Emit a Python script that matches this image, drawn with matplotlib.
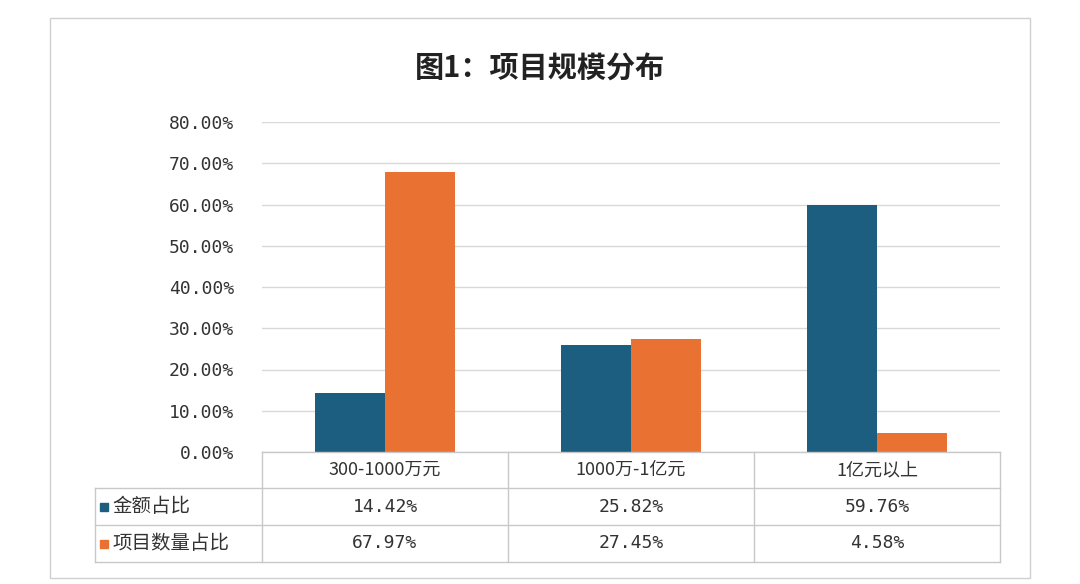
import matplotlib
matplotlib.use("Agg")
import matplotlib.pyplot as plt
from matplotlib.lines import Line2D
from matplotlib.patches import Rectangle
import numpy as np

plt.rcParams['font.family'] = ['Noto Sans CJK SC', 'DejaVu Sans']

categories = ['300-1000万元', '1000万-1亿元', '1亿元以上']
series_names = ['金额占比', '项目数量占比']
amount = [14.42, 25.82, 59.76]
count = [67.97, 27.45, 4.58]
colors = ['#1b5e80', '#e97132']

W, H = 1080, 584
fig = plt.figure(figsize=(W/100, H/100), dpi=100)
def fx(x): return x / W
def fy(y): return 1 - y / H

# outer border
fig.patches.append(Rectangle((fx(50), fy(578)), fx(1030)-fx(50), fy(18)-fy(578),
                             transform=fig.transFigure, fill=False, ec='#d0d0d0', lw=1))
fig.text(fx(540), fy(68), '图1：项目规模分布', ha='center', va='center', fontsize=21, fontweight='bold', color='#222')

L, R, T, B = 262, 1000, 122, 452
ax = fig.add_axes([fx(L), fy(B), fx(R)-fx(L), fy(T)-fy(B)])
x = np.arange(len(categories))
w = 0.285
ax.bar(x - w/2, amount, w, color=colors[0])
ax.bar(x + w/2, count, w, color=colors[1])
ax.set_xlim(-0.5, 2.5)
ax.set_ylim(0, 80)
ax.set_yticks(np.arange(0, 81, 10))
ax.set_yticklabels([f'{v:.2f}%' for v in np.arange(0, 81, 10)], fontsize=13, color='#333',
                   family=['DejaVu Sans Mono'])
ax.yaxis.grid(True, color='#d9d9d9', lw=1)
ax.set_axisbelow(True)
ax.set_xticks([])
for s in ax.spines.values(): s.set_visible(False)
ax.tick_params(axis='y', length=0, pad=20)

# table
rows_y = [452, 488, 525, 562]
col_x = [L + (R-L)*i/3 for i in range(4)]
lc = '#c8c8c8'
def hl(x0, x1, y):
    fig.lines.append(Line2D([fx(x0), fx(x1)], [fy(y), fy(y)], transform=fig.transFigure, color=lc, lw=1))
def vl(x, y0, y1):
    fig.lines.append(Line2D([fx(x), fx(x)], [fy(y0), fy(y1)], transform=fig.transFigure, color=lc, lw=1))
hl(L, R, 452)
hl(95, R, 488); hl(95, R, 525); hl(95, R, 562)
for cx in col_x: vl(cx, 452, 562)
vl(95, 488, 562)
for i, c in enumerate(categories):
    fig.text(fx((col_x[i]+col_x[i+1])/2), fy(470), c, ha='center', va='center', fontsize=13, color='#333')
for r, (name, vals) in enumerate(zip(series_names, [amount, count])):
    yc = (rows_y[r+1] + rows_y[r+2]) / 2
    fig.patches.append(Rectangle((fx(100), fy(yc+4)), fx(8), 8/H, transform=fig.transFigure, color=colors[r]))
    fig.text(fx(112), fy(yc), name, ha='left', va='center', fontsize=14, color='#333')
    for i, v in enumerate(vals):
        fig.text(fx((col_x[i]+col_x[i+1])/2), fy(yc), f'{v:.2f}%', ha='center', va='center',
                 fontsize=13, color='#333', family=['DejaVu Sans Mono'])

fig.savefig('out.png', dpi=100)
